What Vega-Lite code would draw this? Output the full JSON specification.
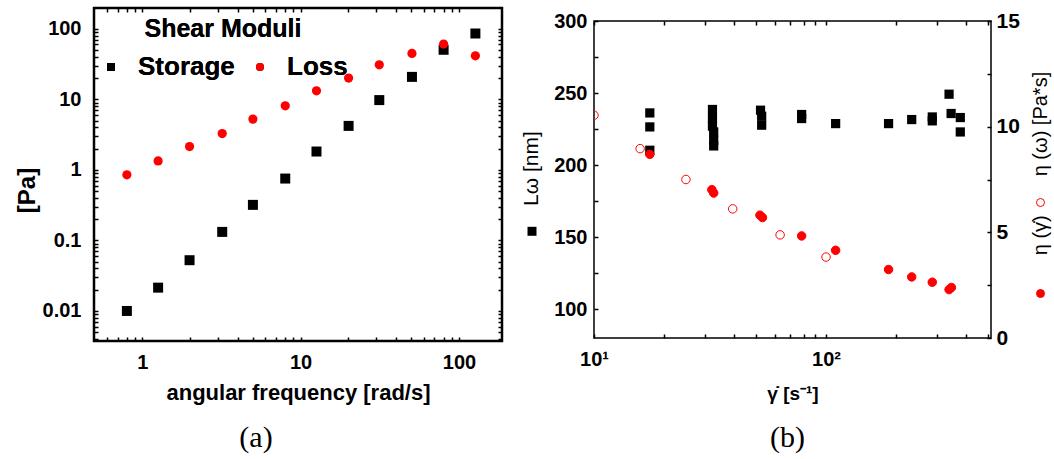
{
  "$schema": "https://vega.github.io/schema/vega-lite/v6.json",
  "background": "white",
  "padding": {"left": 13, "top": 6, "right": 0, "bottom": 0},
  "config": {
    "font": "Liberation Sans",
    "concat": {"spacing": 15},
    "axis": {"grid": false, "domain": false, "ticks": true, "tickColor": "#000000", "tickOpacity": 1, "labelColor": "black", "titleColor": "black", "labelFont": "Liberation Sans", "titleFont": "Liberation Sans", "labelOverlap": false, "labelFlush": false, "tickWidth": 1.5, "tickSize": -4}
  },
  "resolve": {"scale": {"shape": "independent"}, "legend": {"shape": "independent"}},
  "datasets": {
    "moduli": [
      {"freq": 0.80, "modulus": 0.01, "type": "Storage"},
      {"freq": 1.26, "modulus": 0.0214, "type": "Storage"},
      {"freq": 1.99, "modulus": 0.0524, "type": "Storage"},
      {"freq": 3.2, "modulus": 0.132, "type": "Storage"},
      {"freq": 5.0, "modulus": 0.319, "type": "Storage"},
      {"freq": 8.0, "modulus": 0.753, "type": "Storage"},
      {"freq": 12.6, "modulus": 1.82, "type": "Storage"},
      {"freq": 20.1, "modulus": 4.2, "type": "Storage"},
      {"freq": 31.4, "modulus": 9.75, "type": "Storage"},
      {"freq": 50.5, "modulus": 20.8, "type": "Storage"},
      {"freq": 80, "modulus": 50.4, "type": "Storage"},
      {"freq": 127, "modulus": 85.7, "type": "Storage"},
      {"freq": 0.80, "modulus": 0.85, "type": "Loss"},
      {"freq": 1.26, "modulus": 1.34, "type": "Loss"},
      {"freq": 1.99, "modulus": 2.14, "type": "Loss"},
      {"freq": 3.2, "modulus": 3.27, "type": "Loss"},
      {"freq": 5.0, "modulus": 5.24, "type": "Loss"},
      {"freq": 8.0, "modulus": 8.1, "type": "Loss"},
      {"freq": 12.6, "modulus": 13.2, "type": "Loss"},
      {"freq": 20.1, "modulus": 20, "type": "Loss"},
      {"freq": 31.4, "modulus": 30.8, "type": "Loss"},
      {"freq": 50.5, "modulus": 44.7, "type": "Loss"},
      {"freq": 80, "modulus": 60.7, "type": "Loss"},
      {"freq": 127, "modulus": 41.4, "type": "Loss"}
    ],
    "lomega": [
      {"rate": 17.4, "L": 236.2, "series": "Lω"}, {"rate": 17.4, "L": 226.5, "series": "Lω"}, {"rate": 17.4, "L": 210.3, "series": "Lω"},
      {"rate": 32.4, "L": 238.6, "series": "Lω"}, {"rate": 32.4, "L": 232.3, "series": "Lω"}, {"rate": 32.4, "L": 227, "series": "Lω"},
      {"rate": 32.8, "L": 223, "series": "Lω"}, {"rate": 32.8, "L": 217.3, "series": "Lω"}, {"rate": 32.8, "L": 213.3, "series": "Lω"},
      {"rate": 52.2, "L": 238.1, "series": "Lω"}, {"rate": 52.8, "L": 233.9, "series": "Lω"}, {"rate": 52.8, "L": 227.7, "series": "Lω"},
      {"rate": 78.5, "L": 235.1, "series": "Lω"}, {"rate": 78.5, "L": 232.3, "series": "Lω"},
      {"rate": 110, "L": 228.8, "series": "Lω"}, {"rate": 186, "L": 228.8, "series": "Lω"}, {"rate": 234, "L": 231.6, "series": "Lω"},
      {"rate": 287, "L": 233.4, "series": "Lω"}, {"rate": 287, "L": 230.7, "series": "Lω"},
      {"rate": 339, "L": 249.2, "series": "Lω"}, {"rate": 346, "L": 235.8, "series": "Lω"},
      {"rate": 379, "L": 233, "series": "Lω"}, {"rate": 379, "L": 223, "series": "Lω"}
    ],
    "eta": [
      {"rate": 17.4, "eta": 8.69, "series": "η(γ̇)"},
      {"rate": 32.2, "eta": 7.02, "series": "η(γ̇)"},
      {"rate": 32.8, "eta": 6.86, "series": "η(γ̇)"},
      {"rate": 51.9, "eta": 5.81, "series": "η(γ̇)"},
      {"rate": 53.2, "eta": 5.70, "series": "η(γ̇)"},
      {"rate": 78.5, "eta": 4.83, "series": "η(γ̇)"},
      {"rate": 110, "eta": 4.15, "series": "η(γ̇)"},
      {"rate": 186, "eta": 3.24, "series": "η(γ̇)"},
      {"rate": 234, "eta": 2.89, "series": "η(γ̇)"},
      {"rate": 287, "eta": 2.64, "series": "η(γ̇)"},
      {"rate": 339, "eta": 2.29, "series": "η(γ̇)"},
      {"rate": 347, "eta": 2.39, "series": "η(γ̇)"},
      {"rate": 10, "eta": 10.54, "series": "η(ω)"},
      {"rate": 15.8, "eta": 8.96, "series": "η(ω)"},
      {"rate": 24.9, "eta": 7.50, "series": "η(ω)"},
      {"rate": 39.6, "eta": 6.11, "series": "η(ω)"},
      {"rate": 63.4, "eta": 4.88, "series": "η(ω)"},
      {"rate": 100, "eta": 3.83, "series": "η(ω)"}
    ]
  },
  "hconcat": [
    {
      "width": 408,
      "height": 333,
      "view": {"stroke": "black", "strokeWidth": 2.5},
      "title": {"text": "(a)", "orient": "bottom", "anchor": "middle", "dx": -42, "font": "Liberation Serif", "fontSize": 30, "fontWeight": "normal", "color": "black", "offset": 20},
      "layer": [
        {
          "data": {"name": "moduli"},
          "transform": [{"filter": "datum.type === 'Storage'"}],
          "mark": {"type": "point", "filled": true, "opacity": 1, "size": 100},
          "encoding": {
            "x": {"field": "freq", "type": "quantitative", "scale": {"type": "log", "domain": [0.496, 187], "nice": false},
              "axis": {"orient": "bottom", "values": [0.6, 0.7, 0.8, 0.9, 1, 2, 3, 4, 5, 6, 7, 8, 9, 10, 20, 30, 40, 50, 60, 70, 80, 90, 100],
                "labelExpr": "datum.value == 1 ? '1' : datum.value == 10 ? '10' : datum.value == 100 ? '100' : ''",
                "labelFontSize": 20, "labelFontWeight": "bold", "labelPadding": 15,
                "title": "angular frequency [rad/s]", "titleFontSize": 22, "titleFontWeight": "bold", "titlePadding": 10}},
            "y": {"field": "modulus", "type": "quantitative", "scale": {"type": "log", "domain": [0.00375, 197], "nice": false},
              "axis": {"orient": "left", "values": [0.004, 0.005, 0.006, 0.007, 0.008, 0.009, 0.01, 0.02, 0.03, 0.04, 0.05, 0.06, 0.07, 0.08, 0.09, 0.1, 0.2, 0.3, 0.4, 0.5, 0.6, 0.7, 0.8, 0.9, 1, 2, 3, 4, 5, 6, 7, 8, 9, 10, 20, 30, 40, 50, 60, 70, 80, 90, 100],
                "labelExpr": "datum.value == 0.01 ? '0.01' : datum.value == 0.1 ? '0.1' : datum.value == 1 ? '1' : datum.value == 10 ? '10' : datum.value == 100 ? '100' : ''",
                "labelFontSize": 20, "labelFontWeight": "bold", "labelPadding": 17,
                "title": "[Pa]", "titleFontSize": 24, "titleFontWeight": "bold", "titlePadding": 3, "titleY": 182}},
            "shape": {"field": "type", "type": "nominal", "scale": {"domain": ["Storage", "Loss"], "range": ["square", "circle"]},
              "legend": {"title": "Shear Moduli", "orient": "none", "legendX": 4, "legendY": 9, "direction": "horizontal", "padding": 0,
                "titleFont": "Liberation Sans", "titleFontSize": 25, "titleFontWeight": "bold", "titleColor": "black", "titleAnchor": "middle", "titlePadding": 12,
                "labelFont": "Liberation Sans", "labelFontSize": 26, "labelFontWeight": "bold", "labelColor": "black", "labelOffset": 14, "columnPadding": 12, "symbolSize": 64, "labelLimit": 300}},
            "color": {"field": "type", "type": "nominal", "scale": {"domain": ["Storage", "Loss"], "range": ["#000000", "#ff0000"]},
              "legend": {"title": "Shear Moduli", "orient": "none", "legendX": 4, "legendY": 9, "direction": "horizontal", "padding": 0,
                "titleFont": "Liberation Sans", "titleFontSize": 25, "titleFontWeight": "bold", "titleColor": "black", "titleAnchor": "middle", "titlePadding": 12,
                "labelFont": "Liberation Sans", "labelFontSize": 26, "labelFontWeight": "bold", "labelColor": "black", "labelOffset": 14, "columnPadding": 12, "symbolSize": 64, "labelLimit": 300}}
          }
        },
        {
          "data": {"name": "moduli"},
          "transform": [{"filter": "datum.type === 'Loss'"}],
          "mark": {"type": "point", "filled": true, "opacity": 1, "size": 85},
          "encoding": {
            "x": {"field": "freq", "type": "quantitative",
              "axis": {"orient": "top", "values": [0.6, 0.7, 0.8, 0.9, 1, 2, 3, 4, 5, 6, 7, 8, 9, 10, 20, 30, 40, 50, 60, 70, 80, 90, 100], "labels": false, "title": null}},
            "y": {"field": "modulus", "type": "quantitative",
              "axis": {"orient": "right", "values": [0.004, 0.005, 0.006, 0.007, 0.008, 0.009, 0.01, 0.02, 0.03, 0.04, 0.05, 0.06, 0.07, 0.08, 0.09, 0.1, 0.2, 0.3, 0.4, 0.5, 0.6, 0.7, 0.8, 0.9, 1, 2, 3, 4, 5, 6, 7, 8, 9, 10, 20, 30, 40, 50, 60, 70, 80, 90, 100], "labels": false, "title": null}},
            "shape": {"field": "type", "type": "nominal",
              "legend": {"title": "Shear Moduli", "orient": "none", "legendX": 4, "legendY": 9, "direction": "horizontal", "padding": 0,
                "titleFont": "Liberation Sans", "titleFontSize": 25, "titleFontWeight": "bold", "titleColor": "black", "titleAnchor": "middle", "titlePadding": 12,
                "labelFont": "Liberation Sans", "labelFontSize": 26, "labelFontWeight": "bold", "labelColor": "black", "labelOffset": 14, "columnPadding": 12, "symbolSize": 64, "labelLimit": 300}},
            "color": {"field": "type", "type": "nominal",
              "legend": {"title": "Shear Moduli", "orient": "none", "legendX": 4, "legendY": 9, "direction": "horizontal", "padding": 0,
                "titleFont": "Liberation Sans", "titleFontSize": 25, "titleFontWeight": "bold", "titleColor": "black", "titleAnchor": "middle", "titlePadding": 12,
                "labelFont": "Liberation Sans", "labelFontSize": 26, "labelFontWeight": "bold", "labelColor": "black", "labelOffset": 14, "columnPadding": 12, "symbolSize": 64, "labelLimit": 300}}
          }
        }
      ],
      "resolve": {"axis": {"x": "independent", "y": "independent"}}
    },
    {
      "spacing": 0,
      "vconcat": [
        {
          "width": 397,
          "height": 0.1,
          "view": {"stroke": null},
          "data": {"values": []},
          "mark": "point"
        },
        {
          "width": 397,
          "height": 317,
          "view": {"stroke": "black", "strokeWidth": 1.5},
          "title": {"text": "(b)", "orient": "bottom", "anchor": "middle", "dx": -5, "font": "Liberation Serif", "fontSize": 30, "fontWeight": "normal", "color": "black", "offset": 20},
          "layer": [
            {
              "data": {"name": "lomega"},
              "mark": {"type": "point", "filled": true, "opacity": 1, "size": 85, "color": "#000000"},
              "encoding": {
                "x": {"field": "rate", "type": "quantitative", "scale": {"type": "log", "domain": [10, 514], "nice": false},
                  "axis": {"orient": "bottom", "values": [10, 20, 30, 40, 50, 60, 70, 80, 90, 100, 200, 300, 400, 500],
                    "labelExpr": "datum.value == 10 ? '10¹' : datum.value == 100 ? '10²' : ''",
                    "labelFontSize": 20, "labelFontWeight": "bold", "labelPadding": 15,
                    "title": "γ̇ [s⁻¹]", "titleFontSize": 19, "titleFontWeight": "bold", "titlePadding": 15}},
                "y": {"field": "L", "type": "quantitative", "scale": {"domain": [80, 300], "nice": false, "zero": false},
                  "axis": {"orient": "left", "values": [100, 125, 150, 175, 200, 225, 250, 275, 300],
                    "labelExpr": "datum.value % 50 == 0 ? datum.label : ''",
                    "labelFontSize": 20, "labelFontWeight": "bold", "labelPadding": 11,
                    "title": "Lω [nm]", "titleFontSize": 21, "titleFontWeight": "normal", "titlePadding": 12, "titleY": 147}},
                "shape": {"field": "series", "type": "nominal", "scale": {"domain": ["Lω"], "range": ["square"]},
                  "legend": {"title": null, "orient": "none", "legendX": -66.5, "legendY": 218.8, "direction": "vertical", "padding": 0, "labelExpr": "''", "labelFontSize": 1, "symbolSize": 81, "symbolFillColor": "#000000", "symbolStrokeWidth": 0}}
              }
            },
            {
              "data": {"name": "eta"},
              "mark": {"type": "point", "shape": "circle", "filled": true, "opacity": 1, "stroke": "#ff0000", "strokeWidth": 1, "size": 72, "clip": true},
              "encoding": {
                "x": {"field": "rate", "type": "quantitative",
                  "axis": {"orient": "top", "values": [10, 20, 30, 40, 50, 60, 70, 80, 90, 100, 200, 300, 400, 500], "labels": false, "title": null}},
                "y": {"field": "eta", "type": "quantitative", "scale": {"domain": [0, 15], "nice": false},
                  "axis": {"orient": "right", "values": [0, 2.5, 5, 7.5, 10, 12.5, 15],
                    "labelExpr": "datum.value % 5 == 0 ? datum.label : ''",
                    "labelFontSize": 21, "labelFontWeight": "bold", "labelPadding": 9,
                    "title": "η (γ̇)\u00a0\u00a0\u00a0\u00a0\u00a0\u00a0\u00a0η (ω) [Pa*s]", "titleFontSize": 20, "titleFontWeight": "normal", "titleAngle": 270, "titleBaseline": "top", "titlePadding": 11, "titleY": 142}},
                "fill": {"field": "series", "type": "nominal", "scale": {"domain": ["η(ω)", "η(γ̇)"], "range": ["transparent", "#ff0000"]},
                  "legend": {"title": null, "orient": "none", "legendX": 942, "legendY": 190, "direction": "vertical", "padding": 0, "labelExpr": "''", "labelFontSize": 1, "symbolSize": 64, "symbolType": "circle", "symbolStrokeColor": "#ff0000", "symbolStrokeWidth": 1, "rowPadding": 78}}
              }
            }
          ],
          "resolve": {"scale": {"y": "independent"}, "axis": {"x": "independent", "y": "independent"}}
        }
      ]
    }
  ]
}
